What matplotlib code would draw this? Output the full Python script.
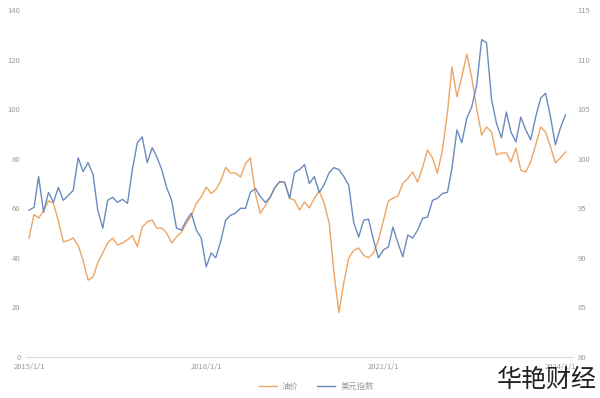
import numpy as np
import pandas as pd
import matplotlib
matplotlib.use("Agg")
import matplotlib.pyplot as plt

plt.rcParams['font.family'] = ['Noto Sans CJK SC', 'DejaVu Sans']

# 油价（左轴）与美元指数（右轴），月度数据 2015/1 起
oil = [48, 57.5, 56, 59, 63, 62, 55, 46.5, 47, 48, 45, 39, 31, 32.3, 38, 42, 46, 48, 45.2, 46,
       47.3, 49, 44.5, 52.4, 54.5, 55.3, 52, 52, 50, 46, 48.4, 50.4, 54, 57, 62, 64.5, 68.5, 66, 67.5, 71,
       76.5, 74.2, 74.2, 72.6, 78, 80.3, 66, 58, 61, 64.5, 68.2, 70.6, 70.6, 64, 63.3, 59.3, 62.5, 60.1, 64, 67,
       62, 54, 34, 18, 30, 40, 43, 44, 41, 40, 42, 47, 55, 63, 64, 65, 70, 72, 74.6, 70.6,
       76.6, 83.5, 80.3, 74.2, 83.5, 98.4, 117, 105, 113, 122.2, 113, 100.4, 89.5, 92.8, 90.8, 81.5, 82.3, 82.3, 78.7, 84.3,
       75.4, 74.6, 78.7, 85.5, 92.8, 90.8, 84.7, 78.3, 80.3, 82.7]
dxy = [94.8, 95.1, 98.2, 94.6, 96.6, 95.6, 97.1, 95.8, 96.3, 96.8, 100.1, 98.7, 99.6, 98.4, 94.8, 93.0, 95.8, 96.1, 95.6, 95.9,
       95.5, 98.9, 101.6, 102.2, 99.6, 101.1, 100.2, 98.9, 97.1, 95.8, 93.0, 92.8, 93.8, 94.5, 92.8, 92.0, 89.1, 90.5, 90.0, 91.7,
       93.8, 94.3, 94.5, 95.0, 95.0, 96.6, 97.0, 96.2, 95.6, 96.1, 97.1, 97.7, 97.6, 96.0, 98.6, 98.9, 99.4, 97.5, 98.2, 96.6,
       97.4, 98.6, 99.1, 98.9, 98.2, 97.3, 93.6, 92.1, 93.8, 93.9, 91.8, 90.0, 90.8, 91.1, 93.1, 91.5, 90.1, 92.3, 92.0, 92.8,
       94.0, 94.1, 95.8, 96.0, 96.5, 96.6, 99.0, 102.9, 101.6, 104.1, 105.2, 107.4, 112.0, 111.7, 106.0, 103.6, 102.1, 104.7, 102.7, 101.7,
       104.2, 102.9, 101.9, 104.2, 106.1, 106.6, 104.2, 101.4, 103.1, 104.4]
dates = pd.date_range('2015-01-01', periods=len(oil), freq='MS')
xtick_dates = ['2015-01-01', '2018-01-01', '2021-01-01', '2024-01-01']
xtick_labels = ['2015/1/1', '2018/1/1', '2021/1/1', '2024/1/1']

orange = '#EDA565'
blue = '#6A8BBF'
tick_color = '#9a9a9a'

fig = plt.figure(figsize=(6, 3.98), dpi=100)
ax = fig.add_axes([0.0433, 0.103, 0.9117, 0.872])
ax2 = ax.twinx()

l1, = ax.plot(dates, oil, color=orange, lw=1.0, label='油价')
l2, = ax2.plot(dates, dxy, color=blue, lw=1.0, label='美元指数')

ax.set_ylim(0, 140)
ax.set_yticks(np.arange(0, 141, 20))
ax2.set_ylim(80, 115)
ax2.set_yticks(np.arange(80, 116, 5))
ax.set_xlim(pd.Timestamp('2014-12-13'), pd.Timestamp('2024-03-19'))
ax.set_xticks(pd.to_datetime(xtick_dates))
ax.set_xticklabels(xtick_labels)

for a in (ax, ax2):
    for s in a.spines.values():
        s.set_visible(False)
    a.tick_params(length=0, labelsize=5.5, colors=tick_color)
ax.spines['bottom'].set_visible(True)
ax.spines['bottom'].set_color('#d9d9d9')
ax.spines['bottom'].set_linewidth(0.8)
ax.tick_params(axis='y', pad=4)
ax2.tick_params(axis='y', pad=3)
ax.tick_params(axis='x', pad=4)

fig.legend(handles=[l1, l2], loc='center', bbox_to_anchor=(0.527, 0.03), ncol=2,
           frameon=False, fontsize=6, labelcolor=tick_color, handlelength=2.2,
           columnspacing=2.2, handletextpad=0.6)

fig.text(0.995, 0.045, '华艳财经', ha='right', va='center', fontsize=18,
         fontweight='light', color='#222222')

fig.savefig('out.png', dpi=100)
